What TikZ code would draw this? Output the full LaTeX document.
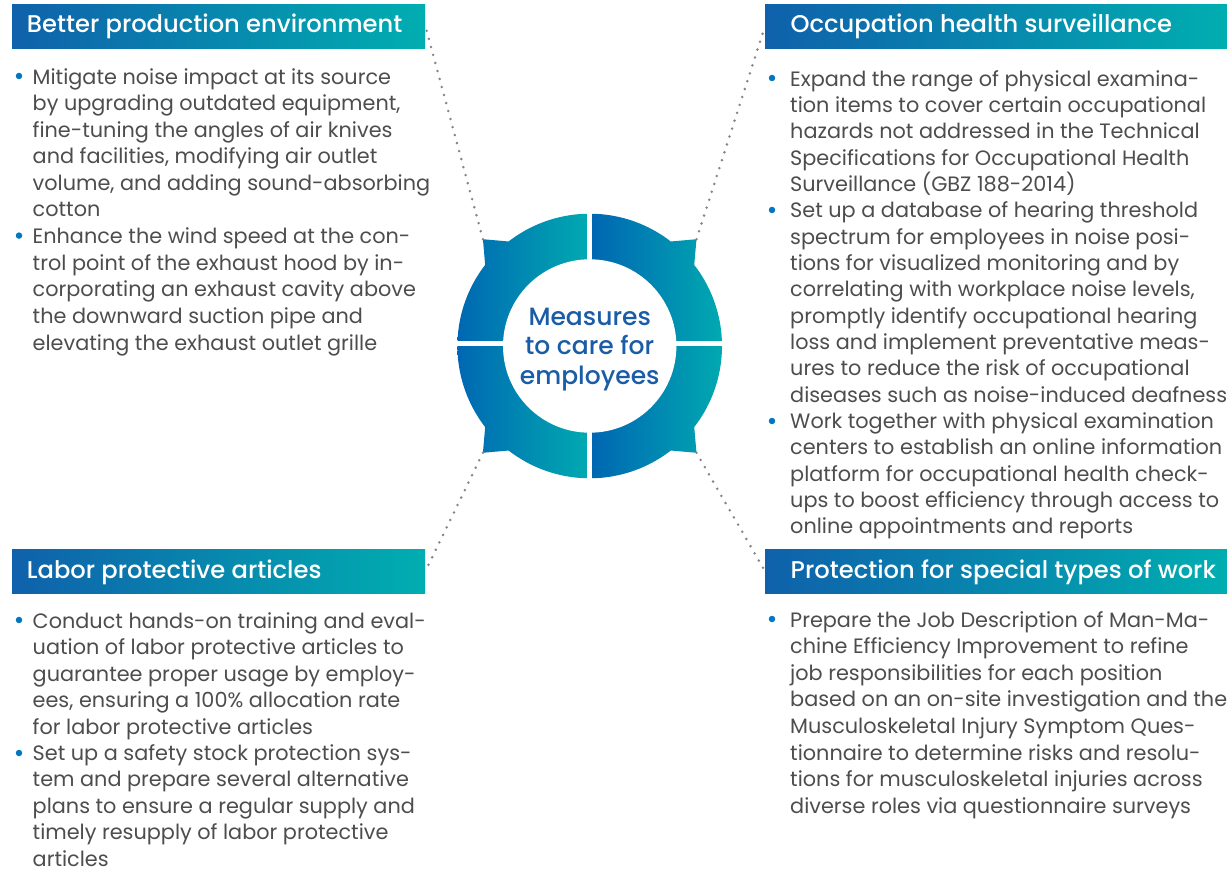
\documentclass[tikz,border=0pt]{standalone}
\usepackage{fontspec}
\setmainfont{Poppins}
\IfFontExistsTF{Poppins Medium}{\newfontfamily\medfont{Poppins Medium}}{\newfontfamily\medfont{Poppins}}
\definecolor{ringL}{HTML}{0067B2}
\definecolor{ringR}{HTML}{00A9B1}
\definecolor{hdrL}{HTML}{0F61AB}
\definecolor{hdrR}{HTML}{00AEB0}
\definecolor{bodygray}{HTML}{4D4D4D}
\definecolor{bulletblue}{HTML}{0077C0}
\definecolor{centerblue}{HTML}{1A5CA6}
\definecolor{dotgray}{HTML}{858585}
\tikzset{
  hdrbox/.style={shade, left color=hdrL, right color=hdrR, inner sep=0pt, minimum height=44pt, anchor=north west},
  hdrtext/.style={text=white, font={\medfont\fontsize{24.2}{28}\selectfont}, inner sep=0pt, anchor=base west},
  bodytext/.style={text=bodygray, font={\fontsize{20.8}{26.35}\selectfont}, inner sep=0pt, anchor=base west, align=left},
  bodytextb/.style={bodytext, font={\fontsize{20.8}{26.6}\selectfont}},
  bulletdot/.style={circle, fill=bulletblue, inner sep=0pt, minimum size=6.5pt},
  dotline/.style={draw=dotgray, line width=2.8pt, line cap=round, dash pattern=on 0pt off 8.3pt},
  centertext/.style={text=centerblue, font={\medfont\fontsize{25}{29.5}\selectfont}, align=center, inner sep=0pt, anchor=base}
}
\begin{document}
\begin{tikzpicture}[x=1pt,y=-1pt]
\useasboundingbox (0,0) rectangle (1227,872);
\def\cx{589.7}\def\cy{346}\def\R{132.3}\def\T{151}
% ring
\begin{scope}
\clip plot[domain=-37.8:37.8, samples=40] ({\cx+\R*cos(\x)},{\cy+\R*sin(\x)})
  -- ({\cx+\T*cos(45)},{\cy+\T*sin(45)})
  -- plot[domain=52.2:127.8, samples=40] ({\cx+\R*cos(\x)},{\cy+\R*sin(\x)})
  -- ({\cx+\T*cos(135)},{\cy+\T*sin(135)})
  -- plot[domain=142.2:217.8, samples=40] ({\cx+\R*cos(\x)},{\cy+\R*sin(\x)})
  -- ({\cx+\T*cos(225)},{\cy+\T*sin(225)})
  -- plot[domain=232.2:307.8, samples=40] ({\cx+\R*cos(\x)},{\cy+\R*sin(\x)})
  -- ({\cx+\T*cos(315)},{\cy+\T*sin(315)}) -- cycle;
\shade[left color=ringL, right color=ringR] (457.3,190) rectangle (586.7,340.7);
\shade[left color=ringL, right color=ringR] (457.3,346.7) rectangle (586.7,500);
\shade[left color=ringL, right color=ringR] (592.7,190) rectangle (722,340.7);
\shade[left color=ringL, right color=ringR] (592.7,346.7) rectangle (722,500);
\end{scope}
\fill[white] (\cx,\cy) circle[radius=86.7pt];
\coordinate (tipTL) at ({\cx+\T*cos(225)},{\cy+\T*sin(225)});
\coordinate (tipTR) at ({\cx+\T*cos(315)},{\cy+\T*sin(315)});
\coordinate (tipBL) at ({\cx+\T*cos(135)},{\cy+\T*sin(135)});
\coordinate (tipBR) at ({\cx+\T*cos(45)},{\cy+\T*sin(45)});
% multi-line nodes: base anchor = baseline of last line
\node[centertext] (ctr) at (\cx,384) {Measures\\to care for\\employees};
% headers
\node[hdrbox, minimum width=413pt] (hTL) at (12,4) {};
\node[hdrbox, minimum width=462pt] (hTR) at (765,4) {};
\node[hdrbox, minimum width=413pt] (hBL) at (12,549) {};
\node[hdrbox, minimum width=462pt] (hBR) at (765,549) {};
\node[hdrtext] (hTLt) at (26.7,33) {Better production environment};
\node[hdrtext] (hTRt) at (790.5,33) {Occupation health surveillance};
\node[hdrtext] (hBLt) at (26.7,578) {Labor protective articles};
\node[hdrtext] (hBRt) at (790.5,578) {Protection for special types of work};
% connectors
\draw[dotline] (tipTL) -- (hTL.east);
\draw[dotline] (tipTR) -- (hTR.west);
\draw[dotline] (tipBL) -- (hBL.east);
\draw[dotline] (tipBR) -- (hBR.west);
% top-left body
\node[bodytextb] (tl1) at (32.5,217) {Mitigate noise impact at its source\\by upgrading outdated equipment,\\fine-tuning the angles of air knives\\and facilities, modifying air outlet\\volume, and adding sound-absorbing\\cotton};
\node[bodytextb] (tl2) at (32.5,350) {Enhance the wind speed at the con-\\trol point of the exhaust hood by in-\\corporating an exhaust cavity above\\the downward suction pipe and\\elevating the exhaust outlet grille};
\node[bulletdot] (btl1) at (19,76) {};
\node[bulletdot] (btl2) at (19,235.6) {};
% top-right body
\node[bodytext] (tr1) at (790,191.4) {Expand the range of physical examina-\\tion items to cover certain occupational\\hazards not addressed in the Technical\\Specifications for Occupational Health\\Surveillance (GBZ 188-2014)};
\node[bodytext] (tr2) at (790,402.2) {Set up a database of hearing threshold\\spectrum for employees in noise posi-\\tions for visualized monitoring and by\\correlating with workplace noise levels,\\promptly identify occupational hearing\\loss and implement preventative meas-\\ures to reduce the risk of occupational\\diseases such as noise-induced deafness};
\node[bodytext] (tr3) at (790,533.9) {Work together with physical examination\\centers to establish an online information\\platform for occupational health check-\\ups to boost efficiency through access to\\online appointments and reports};
\node[bulletdot] (btr1) at (772,78) {};
\node[bulletdot] (btr2) at (772,210) {};
\node[bulletdot] (btr3) at (772,421) {};
% bottom-left body
\node[bodytextb] (bl1) at (32.5,734.4) {Conduct hands-on training and eval-\\uation of labor protective articles to\\guarantee proper usage by employ-\\ees, ensuring a 100\% allocation rate\\for labor protective articles};
\node[bodytextb] (bl2) at (32.5,866.5) {Set up a safety stock protection sys-\\tem and prepare several alternative\\plans to ensure a regular supply and\\timely resupply of labor protective\\articles};
\node[bulletdot] (bbl1) at (19,620) {};
\node[bulletdot] (bbl2) at (19,753) {};
% bottom-right body
\node[bodytextb] (br1) at (790,813.2) {Prepare the Job Description of Man-Ma-\\chine Efficiency Improvement to refine\\job responsibilities for each position\\based on an on-site investigation and the\\Musculoskeletal Injury Symptom Ques-\\tionnaire to determine risks and resolu-\\tions for musculoskeletal injuries across\\diverse roles via questionnaire surveys};
\node[bulletdot] (bbr1) at (772,619) {};
\end{tikzpicture}
\end{document}
